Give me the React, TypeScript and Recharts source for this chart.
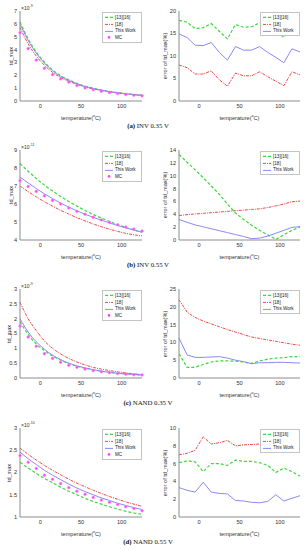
import React from 'react';
import { LineChart, Line, XAxis, YAxis } from 'recharts';

const temps = [-25, -15, -5, 5, 15, 25, 35, 45, 55, 65, 75, 85, 95, 105, 115, 125];
const xTicks = [0, 50, 100];

// (a) INV 0.35 V  (td_max x10^-9)
const invLowRef1316 = [6.15, 4.83, 3.8, 3.02, 2.42, 1.97, 1.64, 1.37, 1.16, 0.99, 0.86, 0.75, 0.66, 0.58, 0.51, 0.45];
const invLowRef18 = [5.72, 4.45, 3.5, 2.78, 2.23, 1.83, 1.53, 1.29, 1.09, 0.94, 0.81, 0.71, 0.62, 0.55, 0.49, 0.43];
const invLowThisWork = [6.0, 4.72, 3.72, 2.95, 2.36, 1.92, 1.6, 1.34, 1.13, 0.97, 0.84, 0.73, 0.64, 0.56, 0.5, 0.44];
const invLowMC = [5.3, 4.07, 3.18, 2.55, 2.05, 1.72, 1.47, 1.2, 1.02, 0.87, 0.76, 0.66, 0.58, 0.51, 0.45, 0.4];
const invLowErr1316 = [17.9, 17.5, 16.1, 16.3, 17.2, 15.5, 13.8, 17.0, 16.4, 16.5, 17.4, 16.7, 15.6, 14.1, 17.3, 16.8];
const invLowErr18 = [8.0, 7.4, 6.0, 6.0, 6.7, 4.7, 3.3, 6.2, 5.6, 5.6, 6.5, 5.4, 4.4, 3.4, 6.5, 5.8];
const invLowErrThis = [14.9, 14.1, 12.4, 12.3, 13.0, 10.8, 9.1, 12.1, 11.3, 11.3, 12.1, 10.8, 9.7, 8.5, 11.6, 10.9];

// (b) INV 0.55 V  (td_max x10^-11)
const invHighRef1316 = [8.25, 7.82, 7.42, 7.05, 6.72, 6.42, 6.14, 5.88, 5.64, 5.42, 5.22, 5.03, 4.86, 4.7, 4.56, 4.42];
const invHighRef18 = [7.0, 6.69, 6.4, 6.13, 5.88, 5.65, 5.44, 5.24, 5.06, 4.89, 4.74, 4.6, 4.48, 4.37, 4.29, 4.23];
const invHighThisWork = [7.5, 7.17, 6.86, 6.57, 6.3, 6.05, 5.83, 5.62, 5.43, 5.26, 5.1, 4.95, 4.8, 4.67, 4.55, 4.44];
const invHighMC = [7.3, 6.97, 6.7, 6.45, 6.2, 6.0, 5.78, 5.59, 5.43, 5.26, 5.11, 4.98, 4.85, 4.72, 4.61, 4.5];
const invHighErr1316 = [13.3, 12.1, 10.9, 9.7, 8.4, 7.1, 5.6, 4.2, 3.2, 2.3, 1.5, 0.8, 0.1, 0.8, 1.5, 2.0];
const invHighErr18 = [3.8, 3.95, 4.05, 4.15, 4.25, 4.35, 4.45, 4.55, 4.65, 4.75, 4.85, 5.05, 5.3, 5.6, 5.95, 6.05];
const invHighErrThis = [3.2, 2.75, 2.35, 2.05, 1.75, 1.45, 1.15, 0.85, 0.55, 0.2, 0.3, 0.6, 1.05, 1.5, 1.95, 2.1];

// (c) NAND 0.35 V  (td_max x10^-9)
const nandLowRef1316 = [1.9, 1.47, 1.15, 0.92, 0.74, 0.6, 0.49, 0.4, 0.33, 0.28, 0.23, 0.19, 0.16, 0.14, 0.12, 0.1];
const nandLowRef18 = [2.55, 2.0, 1.6, 1.25, 1.0, 0.81, 0.66, 0.54, 0.44, 0.36, 0.3, 0.25, 0.21, 0.17, 0.14, 0.12];
const nandLowThisWork = [2.0, 1.55, 1.22, 0.97, 0.77, 0.62, 0.5, 0.41, 0.34, 0.28, 0.23, 0.19, 0.16, 0.14, 0.12, 0.1];
const nandLowMC = [1.75, 1.38, 1.07, 0.82, 0.66, 0.53, 0.43, 0.36, 0.3, 0.25, 0.21, 0.18, 0.15, 0.13, 0.11, 0.1];
const nandLowErr1316 = [6.8, 3.0, 3.0, 3.8, 4.5, 4.8, 4.8, 4.7, 4.5, 4.1, 4.8, 5.3, 5.6, 5.7, 6.0, 6.0];
const nandLowErr18 = [22.0, 18.5, 17.0, 16.0, 15.2, 14.4, 13.6, 12.9, 12.2, 11.5, 11.1, 10.7, 10.3, 9.9, 9.5, 9.2];
const nandLowErrThis = [11.2, 6.5, 5.8, 5.8, 5.9, 6.0, 5.6, 5.0, 4.6, 4.0, 4.3, 4.3, 4.4, 4.4, 4.3, 4.2];

// (d) NAND 0.55 V  (td_max x10^-10)
const nandHighRef1316 = [2.23, 2.1, 1.98, 1.87, 1.77, 1.67, 1.58, 1.5, 1.42, 1.35, 1.29, 1.23, 1.18, 1.13, 1.09, 1.06];
const nandHighRef18 = [2.55, 2.41, 2.28, 2.16, 2.05, 1.95, 1.85, 1.76, 1.68, 1.6, 1.53, 1.46, 1.4, 1.34, 1.29, 1.24];
const nandHighThisWork = [2.46, 2.31, 2.18, 2.05, 1.94, 1.84, 1.74, 1.65, 1.57, 1.5, 1.43, 1.37, 1.31, 1.26, 1.21, 1.17];
const nandHighMC = [2.38, 2.23, 2.09, 1.94, 1.85, 1.75, 1.66, 1.58, 1.51, 1.44, 1.38, 1.33, 1.28, 1.23, 1.19, 1.14];
const nandHighErr1316 = [6.1, 6.3, 6.2, 5.1, 6.0, 6.0, 5.8, 6.4, 6.25, 6.25, 6.1, 5.8, 5.0, 5.5, 5.1, 4.6];
const nandHighErr18 = [7.0, 7.15, 7.5, 9.0, 8.2, 8.35, 8.6, 8.0, 8.1, 8.15, 8.2, 8.4, 8.7, 8.9, 9.1, 9.6];
const nandHighErrThis = [3.3, 3.0, 2.8, 3.9, 2.8, 2.65, 2.6, 1.85, 1.8, 1.65, 1.6, 1.75, 2.5, 1.8, 2.1, 2.4];

const FONT = '"Liberation Sans", Arial, sans-serif';
const AXIS = '#8c8c8c';
const TEXT = '#333';

type Kind = 'g' | 'r' | 'b' | 'mc';
type Series = { name: string; kind: Kind; values: number[] };

const lineStyle: Record<string, any> = {
  g: { stroke: '#3ad83a', strokeWidth: 1.2, strokeDasharray: '3 2' },
  r: { stroke: '#f04848', strokeWidth: 1, strokeDasharray: '3 1 1 1' },
  b: { stroke: '#8a8af5', strokeWidth: 1 },
};

const rows = [
  { top: 11, bottom: 101 },
  { top: 150, bottom: 240 },
  { top: 289, bottom: 378 },
  { top: 428, bottom: 517 },
];

function LegendBox({ right, top, items }: { right: number; top: number; items: Series[] }) {
  return (
    <div
      style={{
        position: 'absolute', left: right - 39, top, width: 38, background: '#fff',
        border: '0.8px solid #c4c4c4', padding: '1px 0', fontFamily: FONT, fontSize: 4.6, color: '#222',
      }}
    >
      {items.map((it) => (
        <div key={it.name} style={{ display: 'flex', alignItems: 'center', height: 6.8 }}>
          <svg width={12} height={6.8} style={{ flex: 'none' }}>
            {it.kind === 'mc' ? (
              <circle cx={6} cy={3.4} r={1.3} fill="#ff40ff" />
            ) : (
              <line x1={2} x2={10} y1={3.4} y2={3.4} {...lineStyle[it.kind]} />
            )}
          </svg>
          <span style={{ whiteSpace: 'nowrap' }}>{it.name}</span>
        </div>
      ))}
    </div>
  );
}

function Panel(props: {
  x: number; r: number; row: number; domain: [number, number]; ticks: number[];
  series: Series[]; smooth: boolean; yLabel: string; labelGap: number; exp?: string;
}) {
  const { x, r, row, domain, ticks, series, smooth, yLabel, labelGap, exp } = props;
  const { top, bottom } = rows[row];
  const w = r - x;
  const h = bottom - top;
  const YW = 24, XH = 12, TOP = 4, RIGHT = 3;
  const data = temps.map((t, i) => {
    const d: any = { t };
    series.forEach((s, k) => { d['s' + k] = s.values[i]; });
    return d;
  });
  const tickStyle = { fontSize: 5.6, fill: TEXT, fontFamily: FONT };
  return (
    <>
      <div style={{ position: 'absolute', left: x - YW, top: top - TOP }}>
        <LineChart width={w + YW + RIGHT} height={h + TOP + XH} data={data}
          margin={{ top: TOP, right: RIGHT, bottom: 0, left: 0 }}>
          <XAxis dataKey="t" type="number" domain={[-25, 125]} ticks={xTicks} height={XH}
            tick={tickStyle} tickLine={false} tickSize={0} tickMargin={3} axisLine={{ stroke: AXIS }} />
          <XAxis xAxisId="top" dataKey="t" type="number" domain={[-25, 125]} orientation="top"
            height={0} tick={false} tickLine={false} axisLine={{ stroke: AXIS }} />
          <YAxis type="number" domain={domain} ticks={ticks} interval={0} width={YW} allowDataOverflow
            tick={tickStyle} tickLine={false} tickSize={0} tickMargin={3} axisLine={{ stroke: AXIS }} />
          <YAxis yAxisId="right" orientation="right" type="number" domain={[0, 1]} width={0}
            tick={false} tickLine={false} axisLine={{ stroke: AXIS }} />
          {series.map((s, k) =>
            s.kind === 'mc' ? (
              <Line key={k} dataKey={'s' + k} stroke="none" isAnimationActive={false}
                dot={{ r: 1.3, fill: '#ff40ff', stroke: '#ff80ff', strokeWidth: 0.6 }} />
            ) : (
              <Line key={k} dataKey={'s' + k} type={smooth ? 'monotone' : 'linear'} dot={false}
                isAnimationActive={false} {...lineStyle[s.kind]} />
            )
          )}
        </LineChart>
      </div>
      <div style={{
        position: 'absolute', left: x - labelGap - 30, top: (top + bottom) / 2 - 4, width: 60, height: 8,
        textAlign: 'center', fontFamily: FONT, fontSize: 5.6, color: TEXT, lineHeight: '8px',
        transform: 'rotate(-90deg)', transformOrigin: '30px 4px', whiteSpace: 'nowrap',
      }}>{yLabel}</div>
      <div style={{
        position: 'absolute', left: x, width: w, top: bottom + 11, textAlign: 'center',
        fontFamily: FONT, fontSize: 5.6, color: TEXT, lineHeight: '8px', whiteSpace: 'nowrap',
      }}>temperature(<sup style={{ fontSize: 3.6 }}>o</sup>C)</div>
      {exp && (
        <div style={{ position: 'absolute', left: x + 1, top: top - 9, fontFamily: FONT, fontSize: 5, color: TEXT, lineHeight: '8px', whiteSpace: 'nowrap' }}>
          ×10<sup style={{ fontSize: 3.6 }}>{exp}</sup>
        </div>
      )}
      <LegendBox right={r - 1} top={top + 1} items={series} />
    </>
  );
}

function Caption({ row, tag, text }: { row: number; tag: string; text: string }) {
  return (
    <div style={{
      position: 'absolute', left: 98, width: 100, top: rows[row].bottom + 20, textAlign: 'center',
      fontFamily: '"Liberation Serif", "Times New Roman", serif', fontSize: 6.8, color: '#111', lineHeight: '9px',
    }}>
      <b>{tag}</b> {text}
    </div>
  );
}

const tdSeries = (g: number[], r: number[], b: number[], mc: number[]): Series[] => [
  { name: '[13][16]', kind: 'g', values: g },
  { name: '[18]', kind: 'r', values: r },
  { name: 'This Work', kind: 'b', values: b },
  { name: 'MC', kind: 'mc', values: mc },
];
const errSeries = (g: number[], r: number[], b: number[]): Series[] => [
  { name: '[13][16]', kind: 'g', values: g },
  { name: '[18]', kind: 'r', values: r },
  { name: 'This Work', kind: 'b', values: b },
];

const LX = 20, LR = 142, RX = 179, RR = 300;
const errLabel = 'error of td_max(%)';

export default function App() {
  return (
    <div style={{ position: 'absolute', left: 0, top: 0, width: 305, height: 550, background: '#fff', overflow: 'hidden' }}>
      <Panel x={LX} r={LR} row={0} domain={[0, 7]} ticks={[0, 1, 2, 3, 4, 5, 6, 7]} smooth exp="-9"
        yLabel="td_max" labelGap={9} series={tdSeries(invLowRef1316, invLowRef18, invLowThisWork, invLowMC)} />
      <Panel x={RX} r={RR} row={0} domain={[0, 20]} ticks={[0, 5, 10, 15, 20]} smooth={false}
        yLabel={errLabel} labelGap={14} series={errSeries(invLowErr1316, invLowErr18, invLowErrThis)} />
      <Caption row={0} tag="(a)" text="INV 0.35 V" />

      <Panel x={LX} r={LR} row={1} domain={[4, 9]} ticks={[4, 5, 6, 7, 8, 9]} smooth exp="-11"
        yLabel="td_max" labelGap={9} series={tdSeries(invHighRef1316, invHighRef18, invHighThisWork, invHighMC)} />
      <Panel x={RX} r={RR} row={1} domain={[0, 14]} ticks={[0, 2, 4, 6, 8, 10, 12, 14]} smooth={false}
        yLabel={errLabel} labelGap={14} series={errSeries(invHighErr1316, invHighErr18, invHighErrThis)} />
      <Caption row={1} tag="(b)" text="INV 0.55 V" />

      <Panel x={LX} r={LR} row={2} domain={[0, 3]} ticks={[0, 0.5, 1, 1.5, 2, 2.5, 3]} smooth exp="-9"
        yLabel="td_max" labelGap={11} series={tdSeries(nandLowRef1316, nandLowRef18, nandLowThisWork, nandLowMC)} />
      <Panel x={RX} r={RR} row={2} domain={[0, 25]} ticks={[0, 5, 10, 15, 20, 25]} smooth={false}
        yLabel={errLabel} labelGap={14} series={errSeries(nandLowErr1316, nandLowErr18, nandLowErrThis)} />
      <Caption row={2} tag="(c)" text="NAND 0.35 V" />

      <Panel x={LX} r={LR} row={3} domain={[1, 3]} ticks={[1, 1.5, 2, 2.5, 3]} smooth exp="-10"
        yLabel="td_max" labelGap={11} series={tdSeries(nandHighRef1316, nandHighRef18, nandHighThisWork, nandHighMC)} />
      <Panel x={RX} r={RR} row={3} domain={[0, 10]} ticks={[0, 2, 4, 6, 8, 10]} smooth={false}
        yLabel={errLabel} labelGap={14} series={errSeries(nandHighErr1316, nandHighErr18, nandHighErrThis)} />
      <Caption row={3} tag="(d)" text="NAND 0.55 V" />
    </div>
  );
}
